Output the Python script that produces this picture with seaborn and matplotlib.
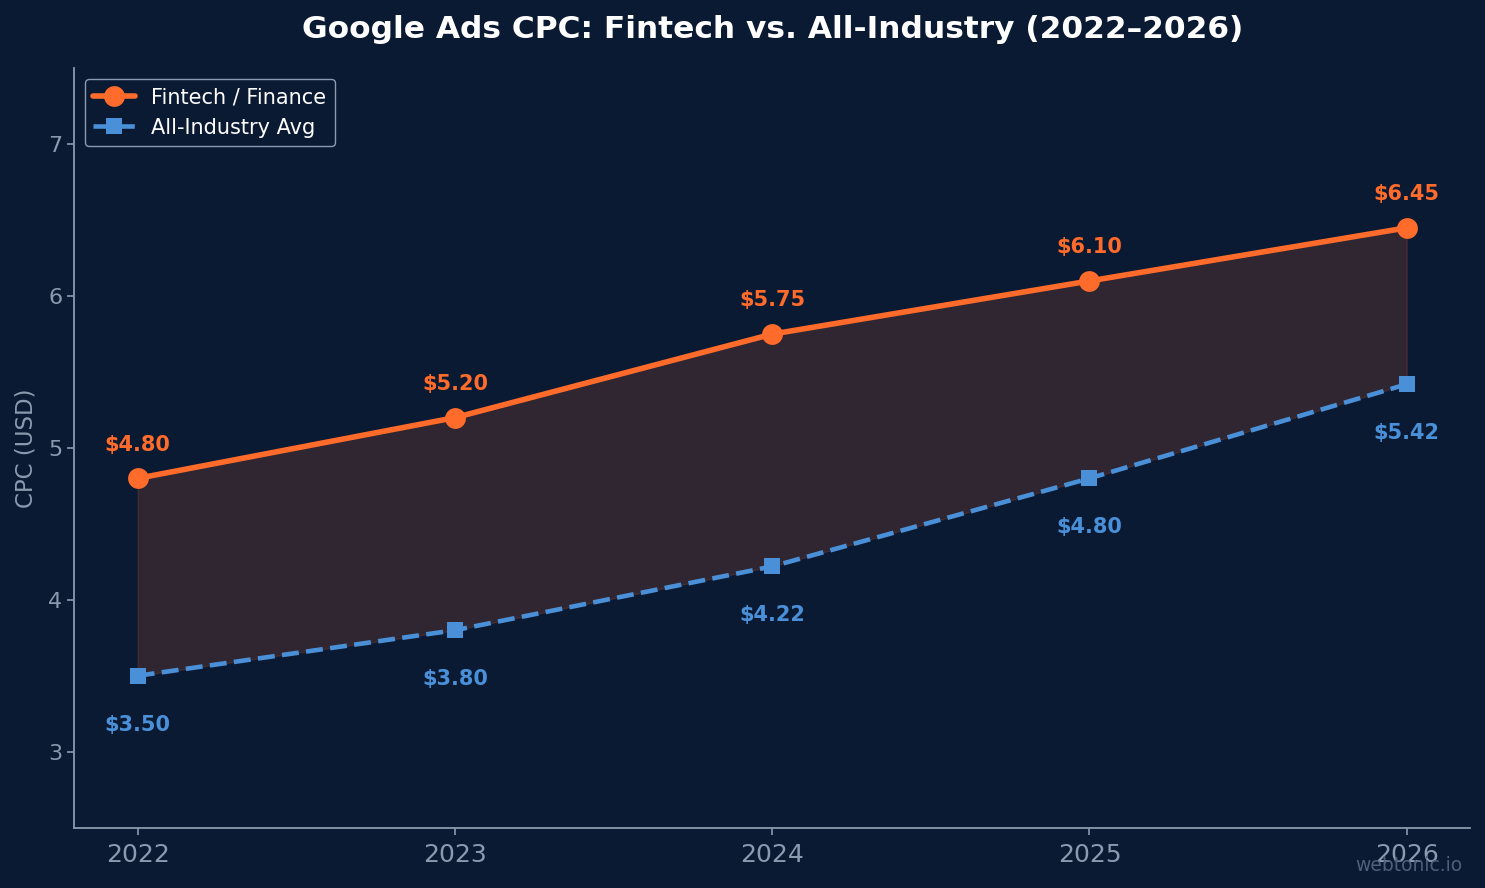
import matplotlib
matplotlib.use('Agg')
import matplotlib.pyplot as plt
import seaborn as sns
import pandas as pd

# Data
years = [2022, 2023, 2024, 2025, 2026]
fintech_cpc = [4.80, 5.20, 5.75, 6.10, 6.45]
industry_cpc = [3.50, 3.80, 4.22, 4.80, 5.42]

BG = '#0b1a33'
ORANGE = '#ff6b2b'
BLUE = '#4a90d9'
AXIS = '#8a9bb0'

sns.set_theme(style='dark')
plt.rcParams['font.family'] = ['DejaVu Sans']

fig, ax = plt.subplots(figsize=(14.85, 8.88), dpi=100)
fig.patch.set_facecolor(BG)
ax.set_facecolor(BG)

df = pd.DataFrame({'year': years, 'fintech': fintech_cpc, 'industry': industry_cpc})

sns.lineplot(data=df, x='year', y='fintech', ax=ax, color=ORANGE, linewidth=4,
             marker='o', markersize=15, markeredgewidth=0, label='Fintech / Finance')
sns.lineplot(data=df, x='year', y='industry', ax=ax, color=BLUE, linewidth=3.3,
             linestyle='--', marker='s', markersize=12, markeredgewidth=0,
             label='All-Industry Avg')

ax.fill_between(df['year'], df['industry'], df['fintech'], color=ORANGE, alpha=0.15, zorder=1)

for x, y in zip(years, fintech_cpc):
    ax.annotate(f'${y:.2f}', (x, y), xytext=(0, 17), textcoords='offset points',
                ha='center', va='bottom', color=ORANGE, fontsize=15, fontweight='bold')
for x, y in zip(years, industry_cpc):
    ax.annotate(f'${y:.2f}', (x, y), xytext=(0, -28), textcoords='offset points',
                ha='center', va='top', color=BLUE, fontsize=15, fontweight='bold')

ax.set_ylim(2.5, 7.5)
ax.set_xticks(years)
ax.set_xticklabels([str(y) for y in years])
ax.set_yticks([3, 4, 5, 6, 7])
ax.set_xlabel('')
ax.set_ylabel('CPC (USD)', color=AXIS, fontsize=16.5, labelpad=8)
ax.set_title('Google Ads CPC: Fintech vs. All-Industry (2022–2026)',
             color='white', fontsize=22.5, fontweight='bold', pad=22)

ax.tick_params(axis='x', colors=AXIS, labelsize=18, length=5, width=1.2, bottom=True, pad=6)
ax.tick_params(axis='y', colors=AXIS, labelsize=16, length=5, width=1.2, left=True)
for side in ['top', 'right']:
    ax.spines[side].set_visible(False)
for side in ['left', 'bottom']:
    ax.spines[side].set_visible(True)
    ax.spines[side].set_color(AXIS)
    ax.spines[side].set_linewidth(1.3)
ax.grid(False)

leg = ax.legend(loc='upper left', facecolor=BG, edgecolor=AXIS, fontsize=15,
                framealpha=1, borderaxespad=0.5)
for t in leg.get_texts():
    t.set_color('white')

fig.text(0.985, 0.015, 'webtonic.io', ha='right', va='bottom', color='#4d5f7a', fontsize=13.5)

plt.subplots_adjust(left=0.05, right=0.99, top=0.923, bottom=0.068)
plt.savefig('out.png', dpi=100, facecolor=BG)
